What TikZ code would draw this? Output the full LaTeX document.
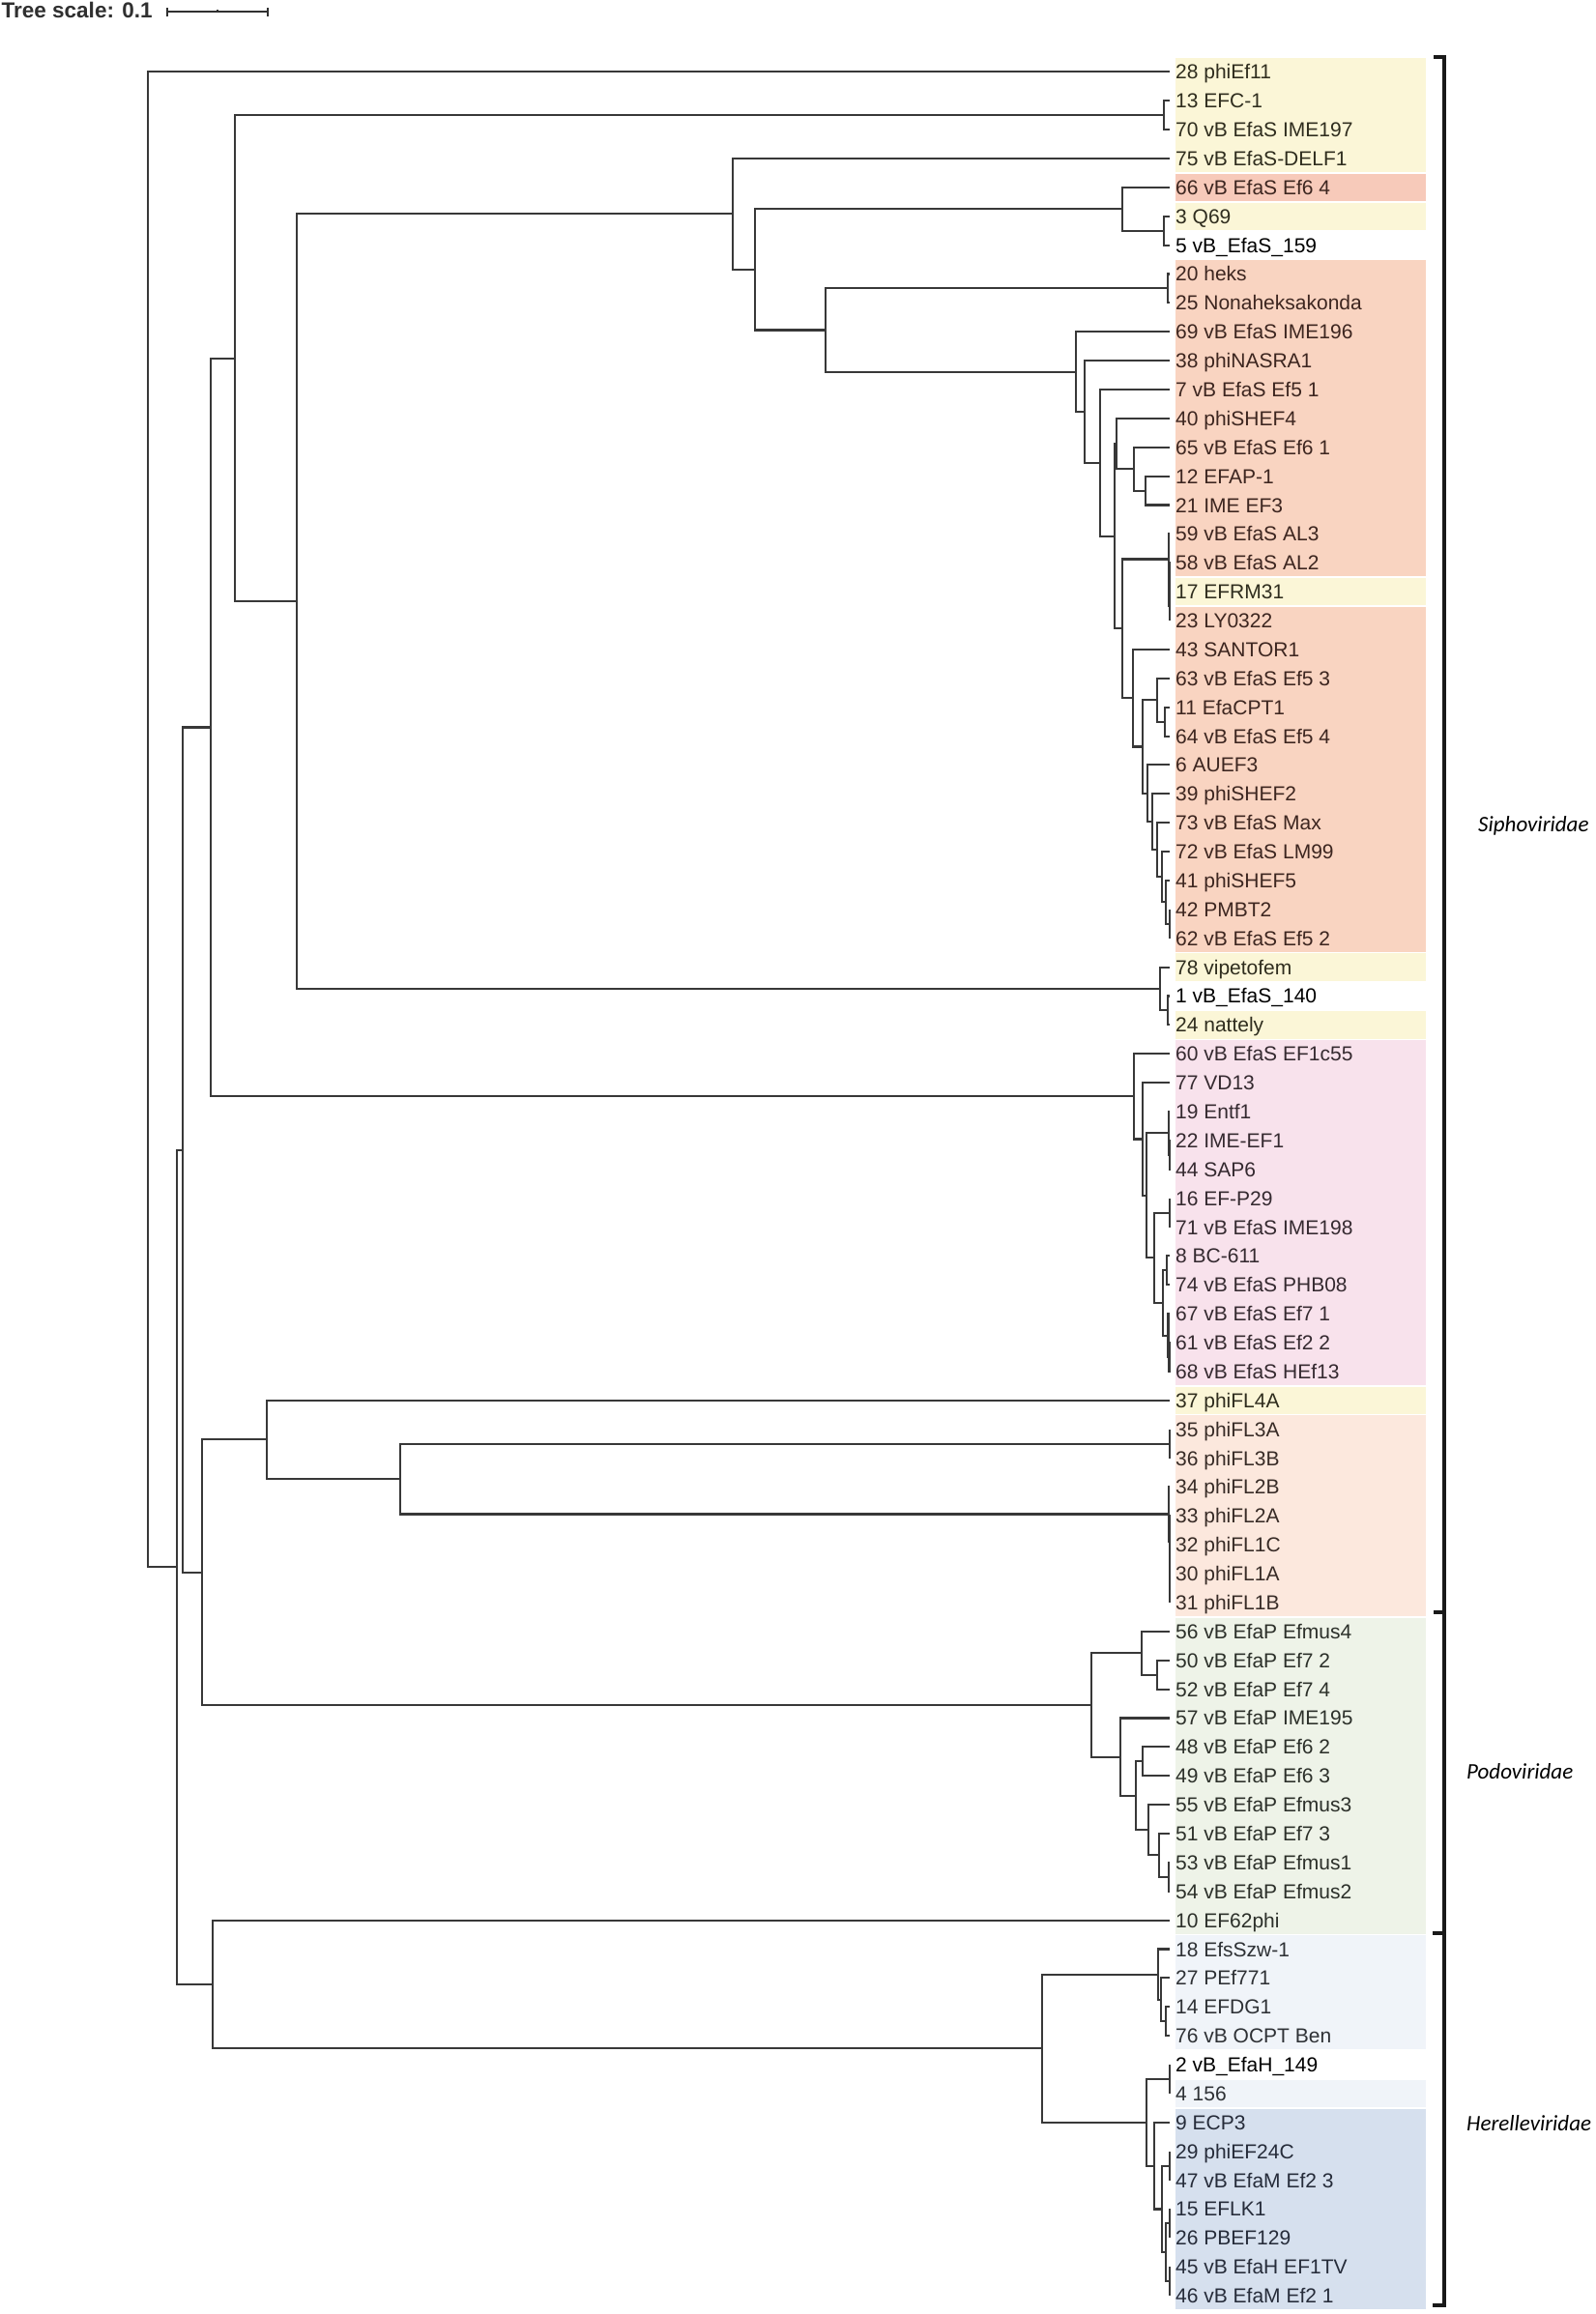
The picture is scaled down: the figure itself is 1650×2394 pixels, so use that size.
\documentclass[tikz,border=0pt]{standalone}
\usepackage{fontspec}
\setmainfont{Liberation Sans}
\newfontfamily\famfont{Carlito}
\usetikzlibrary{calc}
\definecolor{cy}{HTML}{FBF6D7}
\definecolor{cs}{HTML}{F9D4C1}
\definecolor{cs2}{HTML}{F7CABA}
\definecolor{cp}{HTML}{F8E2EC}
\definecolor{cf}{HTML}{FCE8DD}
\definecolor{cg}{HTML}{EEF3E8}
\definecolor{cl}{HTML}{F0F4F9}
\definecolor{cb}{HTML}{D6E0EE}
\definecolor{ty}{HTML}{2F2D1E}
\definecolor{ts}{HTML}{3D2620}
\definecolor{tp}{HTML}{352A30}
\definecolor{tf}{HTML}{382C27}
\definecolor{tg}{HTML}{2C302A}
\definecolor{tl}{HTML}{2E3135}
\definecolor{tb}{HTML}{262C3A}
\definecolor{treeline}{HTML}{383838}
\definecolor{hdr}{HTML}{303030}
\tikzset{
  br/.style={draw=treeline, line width=2.1pt},
  lab/.style={anchor=west, inner sep=0pt, text height=15pt, text depth=0pt, font=\fontsize{21}{25}\selectfont},
  fam/.style={anchor=base west, inner sep=0pt, font=\famfont\itshape\fontsize{23}{27}\selectfont},
  brk/.style={draw=black!90, line width=4pt, line join=miter},
}
\newcommand\tn[4]{%
  \coordinate (tmpmid) at ($(#3)!0.5!(#4)$);
  \coordinate (#1) at (#2,0 |- tmpmid);
  \draw[br] (#1) |- (#3);
  \draw[br] (#1) |- (#4);
}
\newcommand\band[3]{\fill[#1] (1216,{74.3+29.88*#2-14.2}) rectangle (1475,{74.3+29.88*#3+14.2});}
\begin{document}
\begin{tikzpicture}[x=1pt,y=-1pt]
\useasboundingbox (0,0) rectangle (1650,2394);
\fill[white] (0,0) rectangle (1650,2394);
% header
\node[anchor=base west, inner sep=0pt, text=hdr, font=\fontsize{22.5}{26}\selectfont\bfseries] (title) at (1.5,18.5) {Tree scale: 0.1};
\coordinate (sbl) at (173,12.3);
\coordinate (sbr) at (277,12.3);
\draw[hdr, line width=2.2pt] (sbl) -- (sbr);
\draw[hdr, line width=1.6pt] ([yshift=-5pt]sbl) -- ([yshift=4.5pt]sbl);
\draw[hdr, line width=1.6pt] ([yshift=-5pt]sbr) -- ([yshift=4.5pt]sbr);
\draw[hdr, line width=1.2pt] ($(sbl)!0.5!(sbr)$) -- ++(0,-2.8);
% colour bands
\band{cy}{0}{3}
\band{cs2}{4}{4}
\band{cy}{5}{5}
\band{cs}{7}{17}
\band{cy}{18}{18}
\band{cs}{19}{30}
\band{cy}{31}{31}
\band{cy}{33}{33}
\band{cp}{34}{45}
\band{cy}{46}{46}
\band{cf}{47}{53}
\band{cg}{54}{64}
\band{cl}{65}{68}
\band{cl}{70}{70}
\band{cb}{71}{77}
% leaves
\foreach \t/\c [count=\i from 0] in {
{28 phiEf11}/ty, {13 EFC-1}/ty, {70 vB EfaS IME197}/ty, {75 vB EfaS-DELF1}/ty,
{66 vB EfaS Ef6 4}/ts, {3 Q69}/ty, {5 vB\_EfaS\_159}/black, {20 heks}/ts,
{25 Nonaheksakonda}/ts, {69 vB EfaS IME196}/ts, {38 phiNASRA1}/ts, {7 vB EfaS Ef5 1}/ts,
{40 phiSHEF4}/ts, {65 vB EfaS Ef6 1}/ts, {12 EFAP-1}/ts, {21 IME EF3}/ts,
{59 vB EfaS AL3}/ts, {58 vB EfaS AL2}/ts, {17 EFRM31}/ty, {23 LY0322}/ts,
{43 SANTOR1}/ts, {63 vB EfaS Ef5 3}/ts, {11 EfaCPT1}/ts, {64 vB EfaS Ef5 4}/ts,
{6 AUEF3}/ts, {39 phiSHEF2}/ts, {73 vB EfaS Max}/ts, {72 vB EfaS LM99}/ts,
{41 phiSHEF5}/ts, {42 PMBT2}/ts, {62 vB EfaS Ef5 2}/ts, {78 vipetofem}/ty,
{1 vB\_EfaS\_140}/black, {24 nattely}/ty, {60 vB EfaS EF1c55}/tp, {77 VD13}/tp,
{19 Entf1}/tp, {22 IME-EF1}/tp, {44 SAP6}/tp, {16 EF-P29}/tp,
{71 vB EfaS IME198}/tp, {8 BC-611}/tp, {74 vB EfaS PHB08}/tp, {67 vB EfaS Ef7 1}/tp,
{61 vB EfaS Ef2 2}/tp, {68 vB EfaS HEf13}/tp, {37 phiFL4A}/ty, {35 phiFL3A}/tf,
{36 phiFL3B}/tf, {34 phiFL2B}/tf, {33 phiFL2A}/tf, {32 phiFL1C}/tf,
{30 phiFL1A}/tf, {31 phiFL1B}/tf, {56 vB EfaP Efmus4}/tg, {50 vB EfaP Ef7 2}/tg,
{52 vB EfaP Ef7 4}/tg, {57 vB EfaP IME195}/tg, {48 vB EfaP Ef6 2}/tg, {49 vB EfaP Ef6 3}/tg,
{55 vB EfaP Efmus3}/tg, {51 vB EfaP Ef7 3}/tg, {53 vB EfaP Efmus1}/tg, {54 vB EfaP Efmus2}/tg,
{10 EF62phi}/tg, {18 EfsSzw-1}/tl, {27 PEf771}/tl, {14 EFDG1}/tl,
{76 vB OCPT Ben}/tl, {2 vB\_EfaH\_149}/black, {4 156}/tl, {9 ECP3}/tb,
{29 phiEF24C}/tb, {47 vB EfaM Ef2 3}/tb, {15 EFLK1}/tb, {26 PBEF129}/tb,
{45 vB EfaH EF1TV}/tb, {46 vB EfaM Ef2 1}/tb}{
  \coordinate (l\i) at (1210,{74.3+29.88*\i});
  \node[lab, text=\c] (n\i) at (1216,{74.3+29.88*\i}) {\t};
}
% tree: upper Siphoviridae
\tn{q1}{1204}{l1}{l2}
\tn{qa}{1204}{l5}{l6}
\tn{qq}{1161}{l4}{qa}
\tn{hk}{1208}{l7}{l8}
\tn{xp}{1185}{l14}{l15}
\tn{xx}{1173}{l13}{xp}
\tn{ww}{1155}{l12}{xx}
\tn{p3}{1210}{l18}{l19}
\tn{p2}{1209.5}{l17}{p3}
\tn{p1}{1209}{l16}{p2}
\tn{abp}{1205}{l22}{l23}
\tn{ab}{1197}{l21}{abp}
\tn{agp}{1210}{l29}{l30}
\tn{ag}{1206}{l28}{agp}
\tn{af}{1202}{l27}{ag}
\tn{ae}{1197}{l26}{af}
\tn{ad}{1192}{l25}{ae}
\tn{ac}{1187}{l24}{ad}
\tn{aa}{1182}{ab}{ac}
\tn{zz}{1172}{l20}{aa}
\tn{yy}{1161}{p1}{zz}
\tn{vv}{1153}{ww}{yy}
\tn{uu}{1138}{l11}{vv}
\tn{tt}{1122}{l10}{uu}
\tn{ss}{1113}{l9}{tt}
\tn{rr}{854}{hk}{ss}
\tn{nP}{781}{qq}{rr}
\tn{oo}{758}{l3}{nP}
\tn{vp}{1208}{l32}{l33}
\tn{vip}{1200}{l31}{vp}
\tn{nn}{307}{oo}{vip}
\tn{nA}{243}{q1}{nn}
% pink clade
\tn{pk3}{1209.8}{l37}{l38}
\tn{pk2}{1209}{l36}{pk3}
\tn{pe}{1210}{l39}{l40}
\tn{pb}{1207}{l41}{l42}
\tn{pf3}{1209.5}{l44}{l45}
\tn{pf2}{1208.5}{l43}{pf3}
\tn{pdx}{1203}{pb}{pf2}
\tn{pcx}{1194}{pe}{pdx}
\tn{pg}{1186}{pk2}{pcx}
\tn{ph}{1182}{l35}{pg}
\tn{pink}{1173}{l34}{ph}
\tn{nB}{218}{nA}{pink}
% phiFL clade
\tn{fl3}{1210}{l47}{l48}
\tn{f4}{1210}{l52}{l53}
\tn{f3}{1209.8}{l51}{f4}
\tn{f2}{1209.6}{l50}{f3}
\tn{f1}{1209.4}{l49}{f2}
\tn{nG}{414}{fl3}{f1}
\tn{nF}{276}{l46}{nG}
% Podoviridae
\tn{pp1}{1197}{l55}{l56}
\tn{pa}{1181}{l54}{pp1}
\tn{pq}{1182}{l58}{l59}
\tn{pr}{1209}{l62}{l63}
\tn{ps}{1199}{l61}{pr}
\tn{ptx}{1188}{l60}{ps}
\tn{pu}{1175}{pq}{ptx}
\tn{pv}{1159}{l57}{pu}
\tn{podo}{1129}{pa}{pv}
\tn{nE}{209}{nF}{podo}
\tn{nC}{189}{nB}{nE}
% Herelleviridae
\tn{h4}{1206}{l67}{l68}
\tn{h3}{1201}{l66}{h4}
\tn{h2}{1198}{l65}{h3}
\tn{hw}{1210}{l69}{l70}
\tn{hm1}{1210}{l74}{l75}
\tn{hm2}{1210}{l76}{l77}
\tn{hm}{1206}{hm1}{hm2}
\tn{hl}{1210}{l72}{l73}
\tn{hL}{1202}{hl}{hm}
\tn{hK}{1194}{l71}{hL}
\tn{hJ}{1186}{hw}{hK}
\tn{hI}{1078}{h2}{hJ}
\tn{nH}{220}{l64}{hI}
\tn{nD}{183}{nC}{nH}
\tn{root}{153}{l0}{nD}
% family brackets
\coordinate (b0) at (1494,59);
\coordinate (b1) at (1494,1668);
\coordinate (b2) at (1494,2000);
\coordinate (b3) at (1494,2385);
\draw[brk] ([xshift=-11pt]b0) -- (b0) -- (b1) -- ([xshift=-11pt]b1);
\draw[brk] ([xshift=-11pt]b1) -- (b1) -- (b2) -- ([xshift=-12pt]b2);
\draw[brk] ([xshift=-12pt]b2) -- (b2) -- (b3) -- ([xshift=-12pt]b3);
\node[fam] (sipho) at (1529,860) {Siphoviridae};
\node[fam] (podofam) at (1517,1840) {Podoviridae};
\node[fam] (herfam) at (1517,2204) {Herelleviridae};
\end{tikzpicture}
\end{document}
